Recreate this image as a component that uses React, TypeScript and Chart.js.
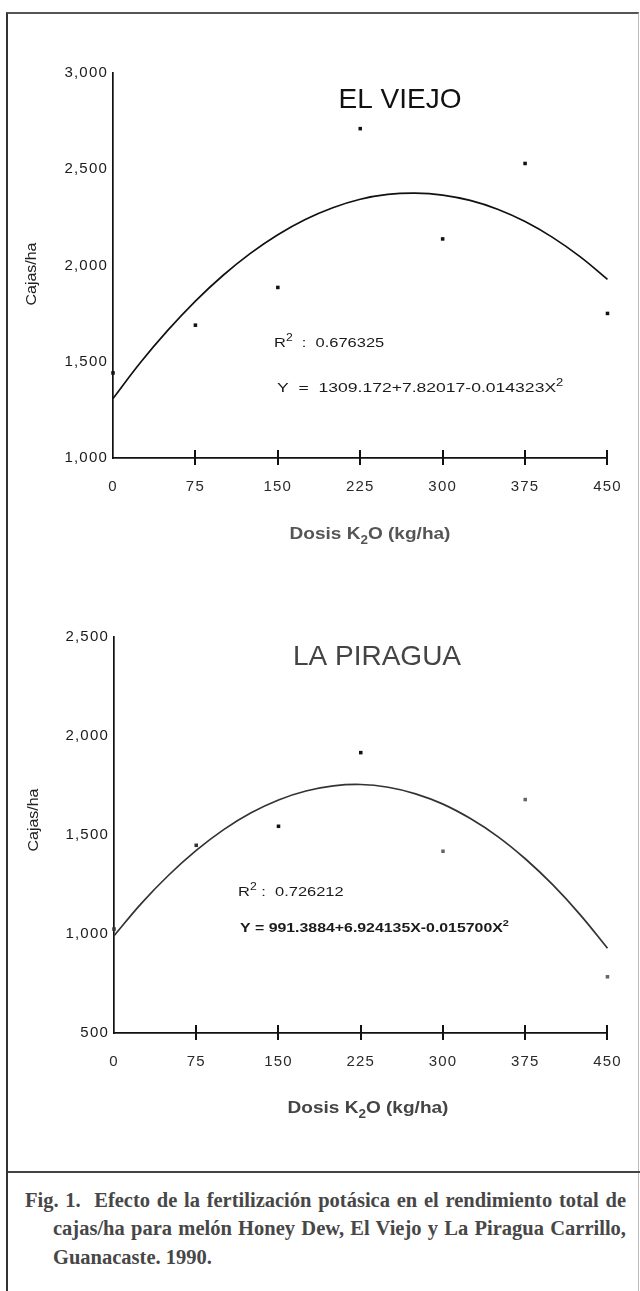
import React, { useEffect, useRef } from 'react';
import { Chart, registerables } from 'chart.js';

Chart.register(...registerables);

// ---- data ----
const doseLevels = [0, 75, 150, 225, 300, 375, 450];
const elViejoYield = [1442, 1690, 1886, 2711, 2138, 2530, 1751];
const laPiraguaYield = [1025, 1448, 1544, 1916, 1418, 1679, 784];

const fitDoses = [0, 25, 50, 75, 100, 125, 150, 175, 200, 225, 250, 275, 300, 325, 350, 375, 400, 425, 450];
const elViejoFit = [1309, 1496, 1664, 1815, 1948, 2063, 2160, 2239, 2300, 2344, 2369, 2376, 2366, 2338, 2292, 2228, 2146, 2046, 1928];
const laPiraguaFit = [991, 1155, 1298, 1422, 1527, 1612, 1677, 1722, 1748, 1755, 1741, 1708, 1656, 1583, 1492, 1380, 1249, 1098, 928];

const xTickValues = [0, 75, 150, 225, 300, 375, 450];
const elViejoYTicks = [1000, 1500, 2000, 2500, 3000];
const laPiraguaYTicks = [500, 1000, 1500, 2000, 2500];

const captionLines = [
  'Fig. 1.\u00a0\u00a0Efecto de la fertilización potásica en el rendimiento total de',
  'cajas/ha para melón Honey Dew, El Viejo y La Piragua Carrillo,',
  'Guanacaste. 1990.',
];

type Seg = { t: string; sup?: boolean; sub?: boolean };
type TextSpec = {
  segs: Seg[];
  x: number;
  y: number;
  size: number;
  weight?: string;
  color: string;
  scaleX?: number;
  align?: 'left' | 'center';
  rotate?: boolean;
};

const SANS = '"Liberation Sans", Arial, Helvetica, sans-serif';

function drawSegs(ctx: CanvasRenderingContext2D, spec: TextSpec) {
  const { segs, x, y, size, weight = 'normal', color, scaleX = 1, align = 'left', rotate = false } = spec;
  const fontFor = (s: Seg) => `${weight} ${s.sup || s.sub ? Math.round(size * 0.72) : size}px ${SANS}`;
  ctx.save();
  (ctx as any).letterSpacing = '0px';
  ctx.fillStyle = color;
  ctx.textBaseline = 'alphabetic';
  ctx.textAlign = 'left';
  let total = 0;
  for (const s of segs) {
    ctx.font = fontFor(s);
    total += ctx.measureText(s.t).width;
  }
  ctx.translate(x, y);
  if (rotate) ctx.rotate(-Math.PI / 2);
  ctx.scale(scaleX, 1);
  let cx = align === 'center' ? -total / 2 : 0;
  const baseY = rotate ? size * 0.36 : 0;
  for (const s of segs) {
    ctx.font = fontFor(s);
    const dy = s.sup ? -size * 0.48 : s.sub ? size * 0.28 : 0;
    ctx.fillText(s.t, cx, baseY + dy);
    cx += ctx.measureText(s.t).width;
  }
  ctx.restore();
}

type PanelProps = {
  top: number;
  height: number;
  area: { left: number; right: number; top: number; bottom: number };
  yMin: number;
  yMax: number;
  yTicks: number[];
  observed: number[];
  fit: number[];
  pointColors: string[];
  lineColor: string;
  texts: TextSpec[];
};

function FitPanel(p: PanelProps) {
  const ref = useRef<HTMLCanvasElement | null>(null);
  useEffect(() => {
    const canvas = ref.current;
    if (!canvas) return;
    const W = 640;
    const textPlugin = {
      id: 'panelTexts',
      beforeDraw(chart: any) {
        (chart.ctx as any).letterSpacing = '1.2px';
      },
      afterDraw(chart: any) {
        const ctx = chart.ctx as CanvasRenderingContext2D;
        const xs = chart.scales.x;
        const bottom = chart.chartArea.bottom;
        ctx.save();
        ctx.strokeStyle = '#111';
        ctx.lineWidth = 2;
        for (const v of xTickValues) {
          if (v === xTickValues[0]) continue;
          const px = Math.round(xs.getPixelForValue(v));
          ctx.beginPath();
          ctx.moveTo(px, bottom - 8);
          ctx.lineTo(px, bottom + 7);
          ctx.stroke();
        }
        ctx.restore();
        for (const t of p.texts) drawSegs(ctx, t);
      },
    };
    const chart = new Chart(canvas, {
      type: 'scatter',
      data: {
        datasets: [
          {
            label: 'fit',
            data: fitDoses.map((x, i) => ({ x, y: p.fit[i] })),
            showLine: true,
            borderColor: p.lineColor,
            borderWidth: 1.7,
            pointRadius: 0,
            tension: 0.4,
            clip: false as any,
          },
          {
            label: 'observed',
            data: doseLevels.map((x, i) => ({ x, y: p.observed[i] })),
            showLine: false,
            pointStyle: 'rect',
            pointRadius: 2.5,
            pointBackgroundColor: p.pointColors,
            pointBorderColor: p.pointColors,
            pointBorderWidth: 0,
            clip: false as any,
          },
        ],
      },
      options: {
        animation: false,
        responsive: false,
        devicePixelRatio: 1,
        locale: 'en-US',
        layout: {
          padding: { left: 0, right: W - p.area.right, top: p.area.top, bottom: 0 },
        },
        plugins: { legend: { display: false }, tooltip: { enabled: false }, title: { display: false } },
        scales: {
          x: {
            type: 'linear',
            min: xTickValues[0],
            max: xTickValues[xTickValues.length - 1],
            afterBuildTicks: (s: any) => {
              s.ticks = xTickValues.map((v) => ({ value: v }));
            },
            afterFit: (s: any) => {
              s.height = p.height - p.area.bottom;
            },
            grid: { display: false, drawTicks: false },
            border: { display: true, color: '#111', width: 1.7 },
            ticks: {
              padding: 20,
              color: '#2a2a2a',
              font: { family: SANS, size: 15 },
              maxRotation: 0,
              autoSkip: false,
            },
          },
          y: {
            type: 'linear',
            min: p.yMin,
            max: p.yMax,
            afterBuildTicks: (s: any) => {
              s.ticks = p.yTicks.map((v) => ({ value: v }));
            },
            afterFit: (s: any) => {
              s.width = p.area.left;
            },
            grid: { display: false, drawTicks: false },
            border: { display: true, color: '#111', width: 1.7 },
            ticks: {
              padding: 5,
              color: '#1a1a1a',
              font: { family: SANS, size: 15 },
              callback: (v: any) => Number(v).toLocaleString('en-US'),
            },
          },
        },
      },
      plugins: [textPlugin],
    } as any);
    return () => chart.destroy();
  }, []);
  return (
    <canvas
      ref={ref}
      width={640}
      height={p.height}
      style={{ position: 'absolute', left: 0, top: p.top, width: 640, height: p.height, display: 'block' }}
    />
  );
}

const doseTitle: Seg[] = [{ t: 'Dosis K' }, { t: '2', sub: true }, { t: 'O (kg/ha)' }];

const topTexts: TextSpec[] = [
  { segs: [{ t: 'EL VIEJO' }], x: 400, y: 108, size: 28, color: '#111', align: 'center' },
  {
    segs: [{ t: 'R' }, { t: '2', sup: true }, { t: '  :  0.676325' }],
    x: 274, y: 347, size: 13.5, color: '#1a1a1a', scaleX: 1.22,
  },
  {
    segs: [{ t: 'Y  =  1309.172+7.82017-0.014323X' }, { t: '2', sup: true }],
    x: 277, y: 392, size: 13.5, color: '#1a1a1a', scaleX: 1.3,
  },
  { segs: doseTitle, x: 370, y: 539, size: 17, weight: 'bold', color: '#555', scaleX: 1.12, align: 'center' },
  { segs: [{ t: 'Cajas/ha' }], x: 31, y: 274, size: 14.5, color: '#222', align: 'center', rotate: true, scaleX: 1.1 },
];

const bottomTexts: TextSpec[] = [
  { segs: [{ t: 'LA PIRAGUA' }], x: 377, y: 85, size: 28, color: '#444', align: 'center' },
  {
    segs: [{ t: 'R' }, { t: '2', sup: true }, { t: ' :  0.726212' }],
    x: 238, y: 316, size: 13.5, color: '#1a1a1a', scaleX: 1.22,
  },
  {
    segs: [{ t: 'Y = 991.3884+6.924135X-0.015700X' }, { t: '2', sup: true }],
    x: 240, y: 352, size: 13, weight: 'bold', color: '#1a1a1a', scaleX: 1.22,
  },
  { segs: doseTitle, x: 368, y: 533, size: 17, weight: 'bold', color: '#444', scaleX: 1.12, align: 'center' },
  { segs: [{ t: 'Cajas/ha' }], x: 33, y: 240, size: 14.5, color: '#222', align: 'center', rotate: true, scaleX: 1.1 },
];

export default function App() {
  useEffect(() => {
    document.body.style.margin = '0';
  }, []);
  const captionBase: React.CSSProperties = {
    position: 'absolute',
    fontFamily: '"Liberation Serif", "Times New Roman", serif',
    fontWeight: 700,
    fontSize: 20.5,
    lineHeight: '28px',
    height: 28,
    color: '#474747',
  };
  return (
    <div style={{ position: 'absolute', left: 0, top: 0, width: 640, height: 1291, background: '#fff', overflow: 'hidden' }}>
      <div
        style={{
          position: 'absolute',
          left: 6,
          top: 12,
          width: 630,
          height: 1290,
          borderLeft: '2px solid #333',
          borderTop: '2px solid #555',
          borderRight: '1px solid #bbb',
        }}
      />
      <div style={{ position: 'absolute', left: 8, top: 1171, width: 632, height: 2, background: '#444' }} />
      <FitPanel
        top={0}
        height={560}
        area={{ left: 113, right: 615, top: 73, bottom: 458 }}
        yMin={elViejoYTicks[0]}
        yMax={elViejoYTicks[elViejoYTicks.length - 1]}
        yTicks={elViejoYTicks}
        observed={elViejoYield}
        fit={elViejoFit}
        pointColors={['#111', '#111', '#111', '#111', '#111', '#111', '#111']}
        lineColor="#111"
        texts={topTexts}
      />
      <FitPanel
        top={580}
        height={560}
        area={{ left: 114, right: 612, top: 57, bottom: 453 }}
        yMin={laPiraguaYTicks[0]}
        yMax={laPiraguaYTicks[laPiraguaYTicks.length - 1]}
        yTicks={laPiraguaYTicks}
        observed={laPiraguaYield}
        fit={laPiraguaFit}
        pointColors={['#333', '#333', '#111', '#111', '#666', '#666', '#666']}
        lineColor="#333"
        texts={bottomTexts}
      />
      <div style={{ ...captionBase, left: 25, top: 1186, width: 601, textAlign: 'justify', textAlignLast: 'justify' }}>
        {captionLines[0]}
      </div>
      <div style={{ ...captionBase, left: 53, top: 1214, width: 573, textAlign: 'justify', textAlignLast: 'justify' }}>
        {captionLines[1]}
      </div>
      <div style={{ ...captionBase, left: 53, top: 1243, width: 500, textAlign: 'left' }}>{captionLines[2]}</div>
    </div>
  );
}
